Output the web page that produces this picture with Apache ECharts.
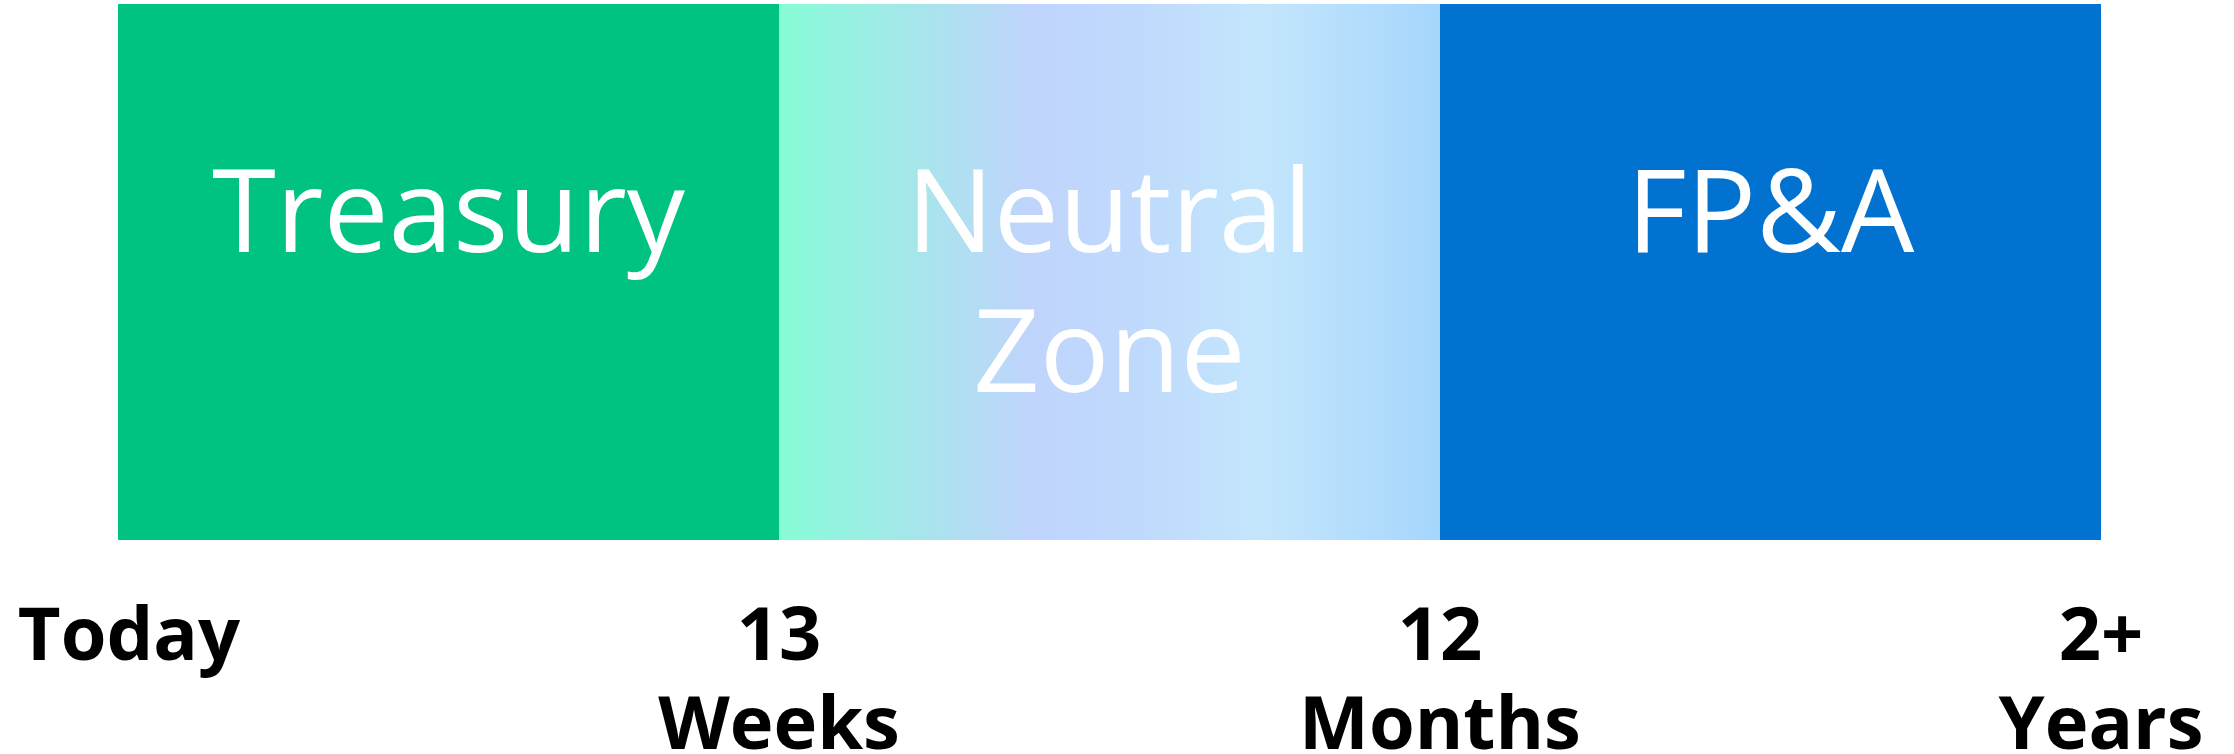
<!DOCTYPE html>
<html lang="en">
<head>
<meta charset="UTF-8" />
<title>Treasury vs FP&amp;A horizon</title>
<script src="https://cdn.jsdelivr.net/npm/echarts@6/dist/echarts.min.js"></script>
<style>
  html, body { margin: 0; padding: 0; background: #fff; }
  #main { width: 2234px; height: 754px; }
</style>
</head>
<body>
<div id="main"></div>
<script>
// zones along the planning horizon
var zones = ['Treasury', 'Neutral\nZone', 'FP&A'];
var zoneValues = [1, 1, 1];
// horizon boundaries (0..3) and their labels
var tickValues = [0, 1, 2, 3];
var tickLabels = ['Today', '13\nWeeks', '12\nMonths', '2+\nYears'];

var zoneFill = [
  '#00c281',
  new echarts.graphic.LinearGradient(0, 0, 1, 0, [
    { offset: 0, color: '#86fcd6' },
    { offset: 0.38, color: '#c0d4fc' },
    { offset: 0.55, color: '#bfdafc' },
    { offset: 0.73, color: '#c4e6fc' },
    { offset: 1, color: '#a6d6fc' }
  ]),
  '#0272d0'
];

var chart = echarts.init(document.getElementById('main'));

chart.setOption({
  animation: false,
  textStyle: { fontFamily: 'Open Sans' },
  grid: { left: 118, right: 133, top: 4, bottom: 214, outerBoundsMode: 'none', containLabel: false },
  xAxis: [
    {
      type: 'category',
      data: zones,
      show: false
    },
    {
      type: 'value',
      min: 0,
      max: 3,
      interval: 1,
      position: 'bottom',
      axisLine: { show: false },
      axisTick: { show: false },
      splitLine: { show: false },
      axisLabel: {
        margin: 54,
        fontFamily: 'Open Sans',
        fontSize: 74,
        fontWeight: 'bold',
        lineHeight: 89,
        color: '#000',
        formatter: function (v) {
          var i = tickValues.indexOf(v);
          if (i < 0) return '';
          // first label sits a little right of the axis start
          return i === 0 ? '{first|' + tickLabels[i] + '}' : tickLabels[i];
        },
        rich: {
          first: {
            fontFamily: 'Open Sans',
            fontSize: 74,
            fontWeight: 'bold',
            lineHeight: 89,
            color: '#000',
            padding: [0, 0, 0, 22]
          }
        }
      }
    }
  ],
  yAxis: { type: 'value', min: 0, max: 1, show: false },
  series: [
    {
      type: 'bar',
      xAxisIndex: 0,
      barWidth: '100%',
      barCategoryGap: 0,
      data: zoneValues.map(function (v, i) {
        return { value: v, itemStyle: { color: zoneFill[i] } };
      }),
      label: {
        show: true,
        position: 'insideTop',
        distance: 145,
        color: '#fff',
        fontFamily: 'Open Sans',
        fontSize: 116,
        lineHeight: 140,
        formatter: '{b}'
      }
    }
  ]
});
</script>
</body>
</html>
